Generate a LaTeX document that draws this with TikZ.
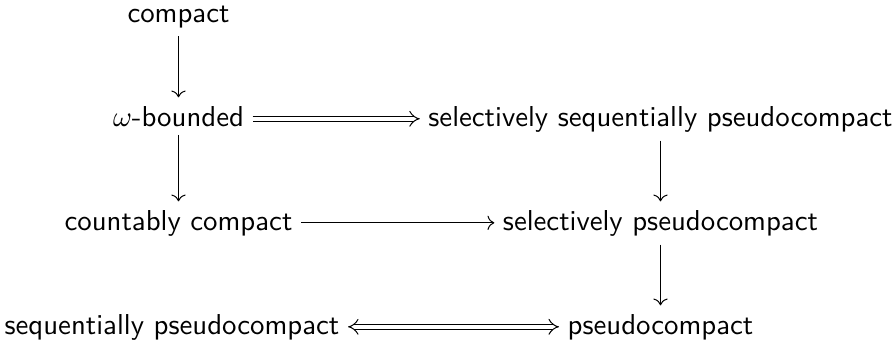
\documentclass[tikz,border=0pt]{standalone}
\usetikzlibrary{arrows.meta}
\begin{document}
\begin{tikzpicture}[x=0.3472pt,y=-0.3472pt,
  lbl/.style={font=\sffamily, anchor=base, inner sep=2.8pt},
  sarrow/.style={->, line width=0.35pt},
  dbl/.style={double, line width=0.35pt, double equal sign distance, -{Implies}},
  dblboth/.style={double, line width=0.35pt, double equal sign distance, {Implies}-{Implies}}]
\useasboundingbox (0,0) rectangle (893,345);
\node[lbl] (c)   at (178.5,22)  {compact};
\node[lbl] (w)   at (178.5,126) {$\omega$-bounded};
\node[lbl] (ssp) at (660.5,126) {selectively sequentially pseudocompact};
\node[lbl] (cc)  at (178.5,230) {countably compact};
\node[lbl] (sp)  at (660.5,230) {selectively pseudocompact};
\node[lbl] (seq) at (172,334) {sequentially pseudocompact};
\node[lbl] (p)   at (660.5,334) {pseudocompact};
\draw[sarrow] (c.south) -- (w.north);
\draw[sarrow] (w.south) -- (cc.north);
\draw[sarrow] (ssp.south) -- (sp.north);
\draw[sarrow] (sp.south) -- (p.north);
\draw[dbl] ([yshift=2.5pt]w.base east) -- ([yshift=2.5pt]ssp.base west);
\draw[sarrow] ([yshift=2.5pt]cc.base east) -- ([yshift=2.5pt]sp.base west);
\draw[dblboth] ([yshift=2.5pt]seq.base east) -- ([yshift=2.5pt]p.base west);
\end{tikzpicture}
\end{document}
